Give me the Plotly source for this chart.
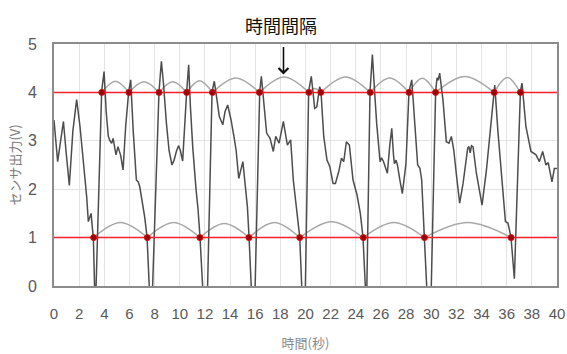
import plotly.graph_objects as go

# ---- data ----
sig_t = [0.0, 0.15, 0.29, 0.5, 0.75, 0.95, 1.22, 1.5, 1.8, 2.07, 2.33, 2.6, 2.73, 2.87, 2.95, 3.05, 3.13, 3.28,
         3.79, 3.98, 4.15, 4.32, 4.45, 4.59, 4.7, 4.93, 5.09, 5.3, 5.49, 5.7, 5.94, 6.1, 6.3, 6.55, 6.7, 6.82, 7.0,
         7.21, 7.4, 7.66, 7.78,
         8.35, 8.54, 8.7, 8.94, 9.15, 9.38, 9.55, 9.73, 9.9, 10.05, 10.23, 10.55, 10.71, 10.85, 11.03, 11.3, 11.45,
         11.61, 11.92, 12.17,
         12.57, 12.75, 12.95, 13.15, 13.42, 13.6, 13.81, 14.08, 14.3, 14.48, 14.69, 14.85, 15.02, 15.2, 15.38,
         15.51, 15.77, 15.95,
         16.36, 16.49, 16.7, 16.91, 17.05, 17.18, 17.44, 17.63, 17.9, 18.24, 18.56, 18.82, 19.03, 19.35, 19.54,
         19.78, 19.96,
         20.25, 20.46, 20.6, 20.73, 20.9, 21.13, 21.23, 21.35, 21.45, 21.71, 21.93, 22.19, 22.38, 22.64, 22.86,
         23.04, 23.25, 23.49, 23.78, 24.1, 24.36, 24.57, 24.85,
         25.13, 25.32, 25.5, 25.66, 25.93, 26.05, 26.2, 26.33, 26.51, 26.7, 26.86, 27.0, 27.07, 27.2, 27.31, 27.5,
         27.7, 27.99, 28.1, 28.23, 28.45, 28.71, 28.92, 29.1, 29.24, 29.45, 29.73, 29.96,
         30.35, 30.46, 30.55, 30.67, 30.93, 31.2, 31.41, 31.6, 31.79, 32.0, 32.26, 32.53, 32.8, 32.9, 33.0, 33.1,
         33.2, 33.32, 33.59, 33.85, 34.04, 34.39, 34.7, 34.97, 35.05, 35.3, 35.9, 36.1, 36.34, 36.61, 36.85,
         37.09, 37.22, 37.53, 37.93, 38.1, 38.33, 38.6, 38.86, 39.12, 39.3, 39.6, 39.79, 40.0]
sig_v = [3.43, 2.9, 2.57, 2.95, 3.40, 2.8, 2.08, 3.2, 3.85, 3.29, 2.6, 1.84, 1.33, 1.43, 1.5, 1.2, 1.0, -0.6,
         4.02, 4.43, 3.6, 3.09, 3.0, 2.95, 3.05, 2.71, 2.88, 2.7, 2.40, 3.3, 4.02, 4.26, 3.2, 2.19, 2.15, 2.05, 1.8,
         1.43, 1.01, -0.5, -0.5,
         4.02, 4.64, 4.2, 3.36, 2.8, 2.5, 2.6, 2.78, 2.9, 2.8, 2.58, 4.02, 4.57, 3.7, 2.88, 1.98, 1.6,
         1.01, -0.5, -0.5,
         4.02, 4.23, 3.8, 3.5, 3.33, 3.6, 3.74, 3.43, 3.1, 2.81, 2.22, 2.4, 2.57, 2.1, 1.64,
         1.01, -0.5, -0.5,
         4.02, 4.33, 3.7, 3.16, 3.1, 3.05, 2.78, 3.09, 2.95, 3.40, 2.91, 3.02, 2.19, 1.5, 1.01,
         -0.5, -0.5,
         4.02, 4.33, 4.0, 3.67, 3.7, 4.12, 4.02, 3.5, 3.09, 2.6, 2.47, 2.12, 2.12, 2.36, 2.64,
         2.57, 2.98, 2.91, 2.19, 1.88, 1.5, 1.01, -0.5,
         4.02, 4.78, 4.0, 3.36, 2.57, 2.65, 2.57, 2.45, 2.33, 2.9, 3.26, 2.7, 2.53, 2.6, 2.5, 2.2,
         1.91, 2.53, 3.3, 4.02, 4.26, 3.29, 2.5, 2.43, 2.19, 1.01, -0.5, -0.5,
         4.02, 4.3, 4.25, 4.4, 3.85, 2.98, 2.95, 3.09, 2.81, 2.3, 1.71, 2.12, 2.74, 2.85, 2.88, 2.75,
         2.9, 2.88, 2.33, 1.91, 1.67, 2.40, 3.22, 4.02, 4.15, 3.2, 1.33, 1.3, 1.01, 0.15, 2.0,
         4.02, 4.19, 3.29, 2.78, 2.75, 2.71, 2.57, 2.78, 2.5, 2.55, 2.15, 2.43, 2.43]

upper_level = 4
lower_level = 1
upper_dots_t = [3.8, 5.96, 8.35, 10.55, 12.6, 16.33, 20.27, 21.22, 25.15, 28.23, 30.34, 35.0, 37.09]
upper_arc_peak = [4.23, 4.22, 4.22, 4.24, 4.30, 4.32, 4.08, 4.32, 4.30, 4.29, 4.33, 4.31]
lower_dots_t = [3.15, 7.42, 11.6, 15.5, 19.54, 24.6, 29.46, 36.35]
lower_arc_peak = [1.31, 1.31, 1.29, 1.31, 1.33, 1.31, 1.31]

x_ticks = list(range(0, 41, 2))
y_ticks = [0, 1, 2, 3, 4, 5]
label_text = "時間間隔"
label_t = 18.05
arrow_t = 18.25
x_title = "時間(秒)"
y_title = "センサ出力(V)"


def arcs(dots, peaks, level):
    xs, ys = [], []
    for i, pk in enumerate(peaks):
        a, b = dots[i], dots[i + 1]
        xs += [a, (a + b) / 2, b, None]
        ys += [level, pk, level, None]
    return xs, ys


fig = go.Figure()
ux, uy = arcs(upper_dots_t, upper_arc_peak, upper_level)
lx, ly = arcs(lower_dots_t, lower_arc_peak, lower_level)
fig.add_trace(go.Scatter(x=ux, y=uy, mode="lines", line=dict(color="#a8a8a8", width=1.5, shape="spline"),
                         connectgaps=False, hoverinfo="skip"))
fig.add_trace(go.Scatter(x=lx, y=ly, mode="lines", line=dict(color="#a8a8a8", width=1.5, shape="spline"),
                         connectgaps=False, hoverinfo="skip"))
fig.add_trace(go.Scatter(x=sig_t, y=sig_v, mode="lines", line=dict(color="#4d4d4d", width=1.5)))
for lvl in (upper_level, lower_level):
    fig.add_trace(go.Scatter(x=[0, 40], y=[lvl, lvl], mode="lines", line=dict(color="#f5222d", width=1.5)))
fig.add_trace(go.Scatter(x=upper_dots_t, y=[upper_level] * len(upper_dots_t), mode="markers",
                         marker=dict(color="#990000", size=6, line=dict(color="#d01010", width=1))))
fig.add_trace(go.Scatter(x=lower_dots_t, y=[lower_level] * len(lower_dots_t), mode="markers",
                         marker=dict(color="#990000", size=6, line=dict(color="#d01010", width=1))))

fig.add_annotation(x=label_t, y=1.078, xref="x", yref="paper", yanchor="middle", text=label_text,
                   showarrow=False, font=dict(family="Noto Sans CJK JP", size=18, color="#111111"))
fig.add_annotation(x=arrow_t, y=4.37, xref="x", yref="y", text="", showarrow=True, ax=0, ay=-29,
                   arrowhead=4, arrowsize=1.2, arrowwidth=1.6, arrowcolor="#111111")

xtickfont = dict(family="Liberation Sans, Arial, sans-serif", size=15, color="#595959")
ytickfont = dict(family="Liberation Sans, Arial, sans-serif", size=16, color="#595959")
fig.update_layout(
    width=567, height=354,
    margin=dict(l=54, r=10, t=44, b=68, autoexpand=False),
    paper_bgcolor="white", plot_bgcolor="white",
    showlegend=False,
    hovermode=False,
    xaxis=dict(range=[0, 40], tickvals=x_ticks, ticktext=[str(v) for v in x_ticks], tickangle=0,
               automargin=False,
               showgrid=True, gridcolor="#e3e3e3", gridwidth=1, zeroline=False,
               showline=True, mirror=True, linecolor="#8c8c8c", linewidth=2,
               tickfont=xtickfont, ticklabelstandoff=13,
               title=dict(text=x_title, font=dict(family="Noto Sans CJK JP", size=13, color="#8a8a8a"),
                          standoff=18)),
    yaxis=dict(range=[0, 5], tickvals=y_ticks, ticktext=[str(v) for v in y_ticks],
               automargin=False,
               showgrid=True, gridcolor="#e3e3e3", gridwidth=1, zeroline=False,
               showline=True, mirror=True, linecolor="#8c8c8c", linewidth=2,
               tickfont=ytickfont, ticklabelstandoff=12,
               title=dict(text=y_title, font=dict(family="Noto Sans CJK JP", size=13, color="#7a7a7a"),
                          standoff=4)),
)
fig.write_html("out.html", config={"displayModeBar": False},
               post_script="document.body.style.margin='0px';document.body.style.overflow='hidden';")
